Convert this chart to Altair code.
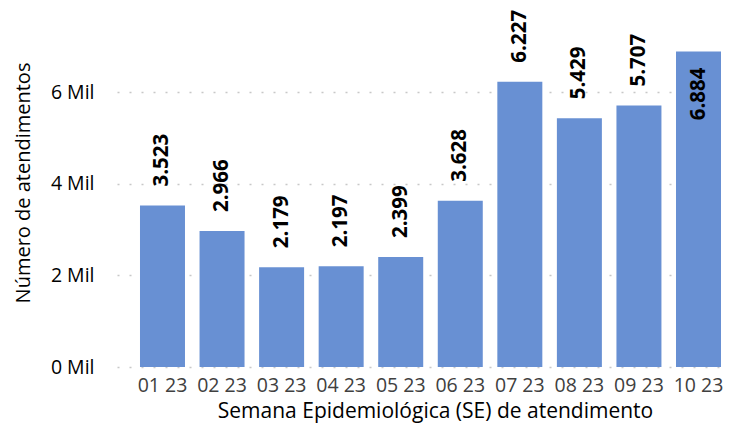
import altair as alt
import pandas as pd

semanas = ["01 23", "02 23", "03 23", "04 23", "05 23", "06 23", "07 23", "08 23", "09 23", "10 23"]
atendimentos = [3523, 2966, 2179, 2197, 2399, 3628, 6227, 5429, 5707, 6884]
y_ticks = [0, 2000, 4000, 6000]

df = pd.DataFrame({"semana": semanas, "valor": atendimentos})
df["rotulo"] = [f"{v:,}".replace(",", ".") for v in atendimentos]
df["dentro"] = [i == len(atendimentos) - 1 for i in range(len(atendimentos))]

FONT = "Open Sans"

x = alt.X("semana:N", sort=semanas,
          scale=alt.Scale(paddingInner=0.2445, paddingOuter=0.193, align=1, round=False),
          axis=alt.Axis(title="Semana Epidemiológica (SE) de atendimento", labelAngle=0,
                        labelFontSize=19.5, labelColor="#404040", labelPadding=9,
                        titleFontSize=21, titleFontWeight="normal", titleColor="#000000",
                        titleBaseline="alphabetic", titleY=50, titleX=318,
                        domain=False, ticks=False, grid=False))
y = alt.Y("valor:Q", scale=alt.Scale(domain=[0, 7790], nice=False),
          axis=alt.Axis(title="Número de atendimentos", values=y_ticks,
                        labelExpr="datum.value / 1000 + ' Mil'",
                        labelFontSize=19.5, labelColor="#000000", labelPadding=23,
                        titleFontSize=20, titleFontWeight="normal", titleColor="#000000",
                        titlePadding=17, titleY=172.5, domain=False, ticks=False,
                        grid=True, gridColor="#C8C8C8", gridDash=[2, 10], gridWidth=1.5))

base = alt.Chart(df)

bars = base.mark_bar(color="#6890D3").encode(x=x, y=y)

lab_out = base.transform_filter("!datum.dentro").mark_text(
    angle=270, align="left", baseline="middle", dx=19, fontSize=20.5, fontWeight="bold",
    font=FONT, color="#000000").encode(x=alt.X("semana:N", sort=semanas), y="valor:Q", text="rotulo:N")

lab_in = base.transform_filter("datum.dentro").mark_text(
    angle=270, align="right", baseline="middle", dx=-16, fontSize=20.5, fontWeight="bold",
    font=FONT, color="#000000").encode(x=alt.X("semana:N", sort=semanas), y="valor:Q", text="rotulo:N")

chart = alt.layer(bars, lab_out, lab_in).properties(
    width=604, height=357,
    autosize=alt.AutoSizeParams(type="none"),
    padding={"left": 109, "top": 2, "right": 2, "bottom": 57},
).configure(font=FONT).configure_view(stroke=None)

chart.save("out.html", embed_options={"renderer": "svg", "actions": False})
